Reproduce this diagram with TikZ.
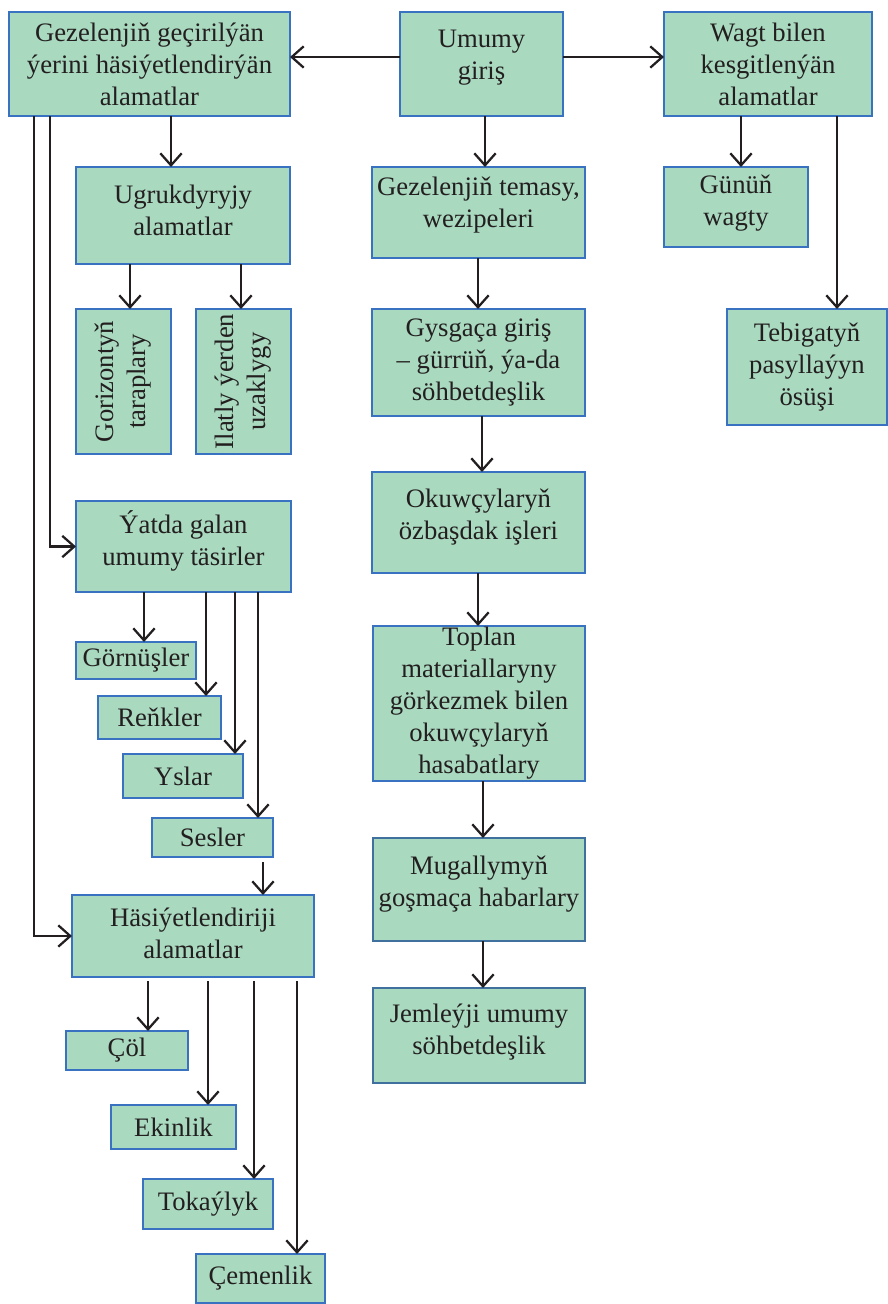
\documentclass[tikz,border=0pt]{standalone}
\usepackage{fontspec}
\setmainfont{Liberation Serif}
\usepackage{graphicx}
\usetikzlibrary{arrows.meta,calc}
\definecolor{boxfill}{HTML}{A9D9BF}
\definecolor{boxline}{HTML}{3A72C2}
\definecolor{boxlinetwo}{HTML}{40709E}
\definecolor{ink}{HTML}{231F20}
\newcommand\lowdp[1]{\rule[-#1]{0pt}{0pt}}
\begin{document}
\begin{tikzpicture}[x=0.75pt,y=-0.75pt,
  font=\fontsize{20}{24}\selectfont,
  box/.style={draw=boxline, fill=boxfill, line width=2.2pt, inner sep=0pt, outer sep=0pt, align=center, text=ink},
  boxb/.style={box, draw=boxlinetwo},
  spot/.style n args={4}{anchor=north west, at={(#1,#2)},
     minimum width={(#3-#1)*0.75pt}, minimum height={(#4-#2)*0.75pt}},
  arr/.style={draw=ink, line width=1.7pt, -{Straight Barb[length=9pt,width=16pt]}}]
\useasboundingbox (0,0) rectangle (888,1304);
% top row
\node[box, spot={9}{12}{290}{116}] (b1) {Gezelenjiň geçirilýän\\ýerini häsiýetlendirýän\\alamatlar};
\node[box, spot={400}{12}{563}{116}] (umumy) {Umumy\\giriş\lowdp{14pt}};
\node[box, spot={664}{12}{872}{116}] (wagt) {Wagt bilen\\kesgitlenýän\\alamatlar};
% second row
\node[box, spot={76}{167}{290}{264}] (ugruk) {Ugrukdyryjy\\alamatlar\lowdp{7.5pt}};
\node[box, spot={372}{167}{585}{258}] (temasy) {Gezelenjiň temasy,\\wezipeleri\lowdp{15pt}};
\node[box, spot={664}{167}{808}{247}] (gunun) {Günüň\\wagty\lowdp{10pt}};
\node[box, spot={727}{309}{887}{425}] (tebig) {Tebigatyň\\pasyllaýyn\\ösüşi};
% middle column
\node[box, spot={372}{309}{585}{416}] (gysga) {Gysgaça giriş\\– gürrüň, ýa-da\\söhbetdeşlik};
\node[box, spot={372}{472}{585}{573}] (okuw) {Okuwçylaryň\\özbaşdak işleri\lowdp{12pt}};
\node[box, spot={373}{626}{585}{781}] (toplan) {Toplan\\materiallaryny\\görkezmek bilen\\okuwçylaryň\\hasabatlary};
\node[boxb, spot={373}{838}{585}{941}] (mugal) {Mugallymyň\\goşmaça habarlary\lowdp{13pt}};
\node[boxb, spot={373}{988}{585}{1083}] (jemle) {Jemleýji umumy\\söhbetdeşlik\lowdp{9pt}};
% left column
\node[box, spot={76}{309}{171}{454}] (goriz) {\rotatebox{90}{\begin{tabular}{@{}c@{}}Gorizontyň\\taraplary\end{tabular}}};
\node[box, spot={196}{309}{291}{454}] (ilatly) {\rotatebox{90}{\begin{tabular}{@{}c@{}}Ilatly ýerden\\uzaklygy\end{tabular}}};
\node[box, spot={76}{501}{291}{592}] (yatda) {Ýatda galan\\umumy täsirler\lowdp{13pt}};
\node[box, spot={76}{642}{196}{679}] (gorn) {Görnüşler};
\node[box, spot={98}{696}{221}{739}] (renk) {Reňkler};
\node[box, spot={123}{754}{243}{798}] (yslar) {Yslar};
\node[box, spot={152}{818}{273}{857}] (sesler) {Sesler};
\node[box, spot={72}{895}{314}{977}] (has) {Häsiýetlendiriji\\alamatlar\lowdp{4.5pt}};
\node[box, spot={66}{1031}{188}{1070}] (col) {Çöl};
\node[box, spot={111}{1105}{236}{1149}] (ekin) {Ekinlik};
\node[box, spot={143}{1179}{273}{1229}] (toka) {Tokaýlyk};
\node[box, spot={196}{1254}{325}{1303}] (cemen) {Çemenlik};
% connectors
\draw[arr] (umumy.west |- 0,57) -- (b1.east |- 0,57);
\draw[arr] (umumy.east |- 0,57) -- (wagt.west |- 0,57);
\draw[arr] (b1.south -| 171,0) -- (ugruk.north -| 171,0);
\draw[arr] (umumy.south -| 485,0) -- (temasy.north -| 485,0);
\draw[arr] (wagt.south -| 741,0) -- (gunun.north -| 741,0);
\draw[arr] (wagt.south -| 837,0) -- (tebig.north -| 837,0);
\draw[arr] (temasy.south -| 478,0) -- (gysga.north -| 478,0);
\draw[arr] (gysga.south -| 482,0) -- (okuw.north -| 482,0);
\draw[arr] (okuw.south -| 478,0) -- (toplan.north -| 478,0);
\draw[arr] (toplan.south -| 483,0) -- (mugal.north -| 483,0);
\draw[arr] (mugal.south -| 483,0) -- (jemle.north -| 483,0);
\draw[arr] (ugruk.south -| 130,0) -- (goriz.north -| 130,0);
\draw[arr] (ugruk.south -| 241,0) -- (ilatly.north -| 241,0);
\draw[arr] (b1.south -| 50,0) |- (yatda.west);
\draw[arr] (b1.south -| 34,0) |- (has.west);
\draw[arr] (yatda.south -| 144,0) -- (gorn.north -| 144,0);
\draw[arr] (yatda.south -| 206,0) -- (renk.north -| 206,0);
\draw[arr] (yatda.south -| 235,0) -- (yslar.north -| 235,0);
\draw[arr] (yatda.south -| 258,0) -- (sesler.north -| 258,0);
\draw[arr] ($(sesler.south -| 263,0)+(0,5)$) -- (has.north -| 263,0);
\draw[arr] ($(has.south -| 148,0)+(0,4)$) -- (col.north -| 148,0);
\draw[arr] ($(has.south -| 208,0)+(0,4)$) -- (ekin.north -| 208,0);
\draw[arr] ($(has.south -| 254,0)+(0,4)$) -- (toka.north -| 254,0);
\draw[arr] ($(has.south -| 297,0)+(0,4)$) -- (cemen.north -| 297,0);
\end{tikzpicture}
\end{document}
